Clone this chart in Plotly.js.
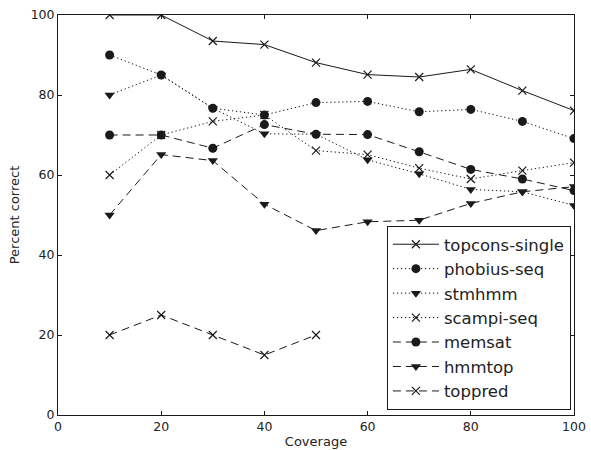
<!DOCTYPE html>
<html>
<head>
<meta charset="utf-8">
<script src="https://cdn.plot.ly/plotly-3.0.1.min.js"></script>
<style>html,body{margin:0;padding:0;background:#fff;}#chart{width:591px;height:450px;}</style>
</head>
<body>
<div id="chart"></div>
<script>
const coverage = [10, 20, 30, 40, 50, 60, 70, 80, 90, 100];
const topconsSingle = [100, 100, 93.5, 92.6, 88.1, 85.1, 84.5, 86.4, 81.1, 76.1];
const phobiusSeq = [90, 85, 76.7, 75, 78.1, 78.4, 75.8, 76.4, 73.4, 69.1];
const stmhmm = [80, 85, 76.7, 70.3, 70.2, 63.8, 60.3, 56.4, 55.8, 52.4];
const scampiSeq = [60, 70, 73.4, 75, 66.1, 65.1, 61.7, 59, 61.1, 63.1];
const memsat = [70, 70, 66.7, 72.6, 70.2, 70.1, 65.8, 61.4, 59, 56.1];
const hmmtop = [50, 65.1, 63.6, 52.7, 46.1, 48.3, 48.7, 52.9, 55.8, 57.1];
const toppredX = [10, 20, 30, 40, 50];
const toppred = [20, 25, 20, 15, 20];
const seriesNames = ['topcons-single', 'phobius-seq', 'stmhmm', 'scampi-seq', 'memsat', 'hmmtop', 'toppred'];
const xTicks = [0, 20, 40, 60, 80, 100];
const yTicks = [0, 20, 40, 60, 80, 100];

const ink = '#1a1a1a';
const DOT = '1.3px,2.7px';
const DASH = '8px,5px';

function mk(sym) {
  if (sym === 'x') return {symbol: 'x-thin', size: 8, color: ink, line: {color: ink, width: 1.2}};
  if (sym === 'o') return {symbol: 'circle', size: 9, color: ink, line: {width: 0}};
  return {symbol: 'triangle-down', size: 9, color: ink, line: {width: 0}};
}
function tr(name, x, y, dash, sym, g) {
  return {x: x, y: y, name: name, type: 'scatter', mode: 'lines+markers',
    line: {color: ink, width: 1, dash: dash}, marker: mk(sym), legendgroup: g};
}
const data = [
  tr(seriesNames[0], coverage, topconsSingle, 'solid', 'x', 'a'),
  tr(seriesNames[1], coverage, phobiusSeq, DOT, 'o', 'b'),
  tr(seriesNames[2], coverage, stmhmm, DOT, 'v', 'c'),
  tr(seriesNames[3], coverage, scampiSeq, DOT, 'x', 'd'),
  tr(seriesNames[4], coverage, memsat, DASH, 'o', 'e'),
  tr(seriesNames[5], coverage, hmmtop, DASH, 'v', 'f'),
  tr(seriesNames[6], toppredX, toppred, DASH, 'x', 'g')
];

const axisCommon = {
  showgrid: false, zeroline: false, showline: true, linecolor: ink, linewidth: 1,
  mirror: 'ticks', ticks: 'inside', ticklen: 4, tickcolor: ink, tickwidth: 1,
  tickfont: {family: 'DejaVu Sans', size: 12.5, color: '#222'}
};
const layout = {
  width: 591, height: 450,
  margin: {l: 58, r: 17, t: 15, b: 35},
  paper_bgcolor: '#fff', plot_bgcolor: '#fff',
  font: {family: 'DejaVu Sans', color: '#222'},
  showlegend: true,
  xaxis: Object.assign({}, axisCommon, {range: [0, 100], tickvals: xTicks, ticktext: xTicks.map(String),
    title: {text: 'Coverage', font: {family: 'DejaVu Sans', size: 13, color: '#222'}, standoff: 3}}),
  yaxis: Object.assign({}, axisCommon, {range: [0, 100], tickvals: yTicks, ticktext: yTicks.map(String),
    title: {text: 'Percent correct', font: {family: 'DejaVu Sans', size: 13, color: '#222'}, standoff: 8}}),
  legend: {x: 0.994, xanchor: 'right', y: 0.0125, yanchor: 'bottom',
    bgcolor: '#fff', bordercolor: ink, borderwidth: 1,
    font: {family: 'DejaVu Sans', size: 16.5, color: '#222'},
    traceorder: 'grouped', tracegroupgap: 0, itemwidth: 46}
};
Plotly.newPlot('chart', data, layout, {staticPlot: true, displayModeBar: false});
</script>
</body>
</html>
